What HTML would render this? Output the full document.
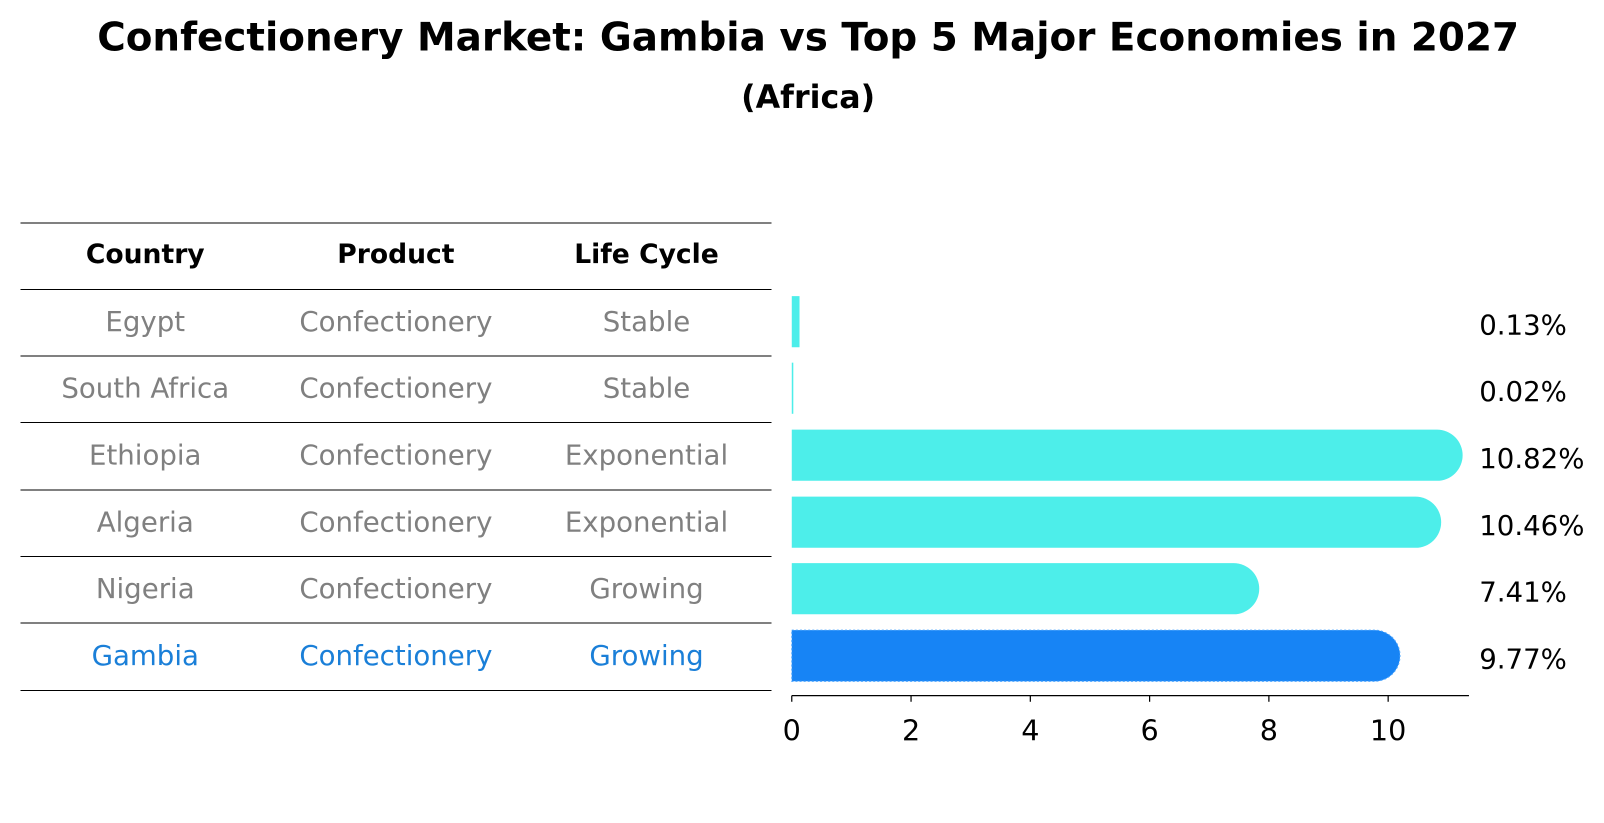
<!DOCTYPE html>
<html><head><meta charset="utf-8"><style>body{margin:0;background:#fff}svg{display:block}text{font-family:"DejaVu Sans","Liberation Sans",sans-serif}</style></head>
<body>
<svg id="c" width="1604" height="823" viewBox="0 0 1568 804.5" xmlns="http://www.w3.org/2000/svg">
<text x="790" y="37" text-anchor="middle" dominant-baseline="central" font-size="38" font-weight="bold">Confectionery Market: Gambia vs Top 5 Major Economies in 2027</text>
<text x="790" y="96" text-anchor="middle" dominant-baseline="central" font-size="31" font-weight="bold">(Africa)</text>
<g id="tbl"></g>
<g id="bars"></g>
</svg>
<script>
const countries=["Egypt","South Africa","Ethiopia","Algeria","Nigeria","Gambia"];
const products=["Confectionery","Confectionery","Confectionery","Confectionery","Confectionery","Confectionery"];
const lifecycles=["Stable","Stable","Exponential","Exponential","Growing","Growing"];
const values=[0.13,0.02,10.82,10.46,7.41,9.77];
const ticks=[0,2,4,6,8,10];
const NS="http://www.w3.org/2000/svg";
function mk(tag,attrs,parent,txt){const e=document.createElementNS(NS,tag);for(const k in attrs)e.setAttribute(k,attrs[k]);if(txt!==undefined)e.textContent=txt;parent.appendChild(e);return e;}
const tbl=document.getElementById('tbl'),bars=document.getElementById('bars');
const lineY=[218,283,348,413,479,544,609,675];
const colX=[142,387,632];
lineY.forEach((y,i)=>{const l=mk('line',{x1:20,x2:754,y1:y,y2:y,stroke:'#000','stroke-width':1,'shape-rendering':'crispEdges'},tbl);

});
["Country","Product","Life Cycle"].forEach((h,i)=>{const t=mk('text',{x:colX[i],y:249,'text-anchor':'middle','dominant-baseline':'central','font-size':26,'font-weight':'bold'},tbl,h);

});
const xs=v=>774+v*58.3;
const rowY=i=>(lineY[i+1]+lineY[i+2])/2;
countries.forEach((c,i)=>{const col=i==countries.length-1?'#1a7fd8':'#808080';const y=rowY(i)-1;
[c,products[i],lifecycles[i]].forEach((s,j)=>{const t=mk('text',{x:colX[j],y:y,'text-anchor':'middle','dominant-baseline':'central','font-size':27,fill:col},tbl,s);

});
const cy=rowY(i)-1,h=50,x0=xs(0),x1=xs(values[i]);const r=h/2;
const last=i==countries.length-1;const fill=last?'#1784f5':'#4deeea';
let d;
if(x1-x0>r){d=`M${x0},${cy-r}H${x1}A${r},${r} 0 0 1 ${x1},${cy+r}H${x0}Z`;}
else{d=`M${x0},${cy-r}H${Math.max(x1,x0+1.5)}V${cy+r}H${x0}Z`;}
const p=mk('path',{d:d,fill:fill},bars);
if(last){p.setAttribute('stroke','#4da6ff');p.setAttribute('stroke-dasharray','2,2');p.setAttribute('stroke-width','1');}


const t=mk('text',{x:1446,y:cy+3,'dominant-baseline':'central','font-size':27},bars,values[i].toFixed(2)+'%');

});
const ax=mk('line',{x1:774,x2:1436,y1:680,y2:680,stroke:'#000','stroke-width':1.2},bars);


ticks.forEach(v=>{const tk=mk('line',{x1:xs(v),x2:xs(v),y1:680,y2:686,stroke:'#000','stroke-width':1.2},bars);


const t=mk('text',{x:xs(v),y:714,'text-anchor':'middle','dominant-baseline':'central','font-size':28},bars,String(v));

});
</script>
</body></html>
